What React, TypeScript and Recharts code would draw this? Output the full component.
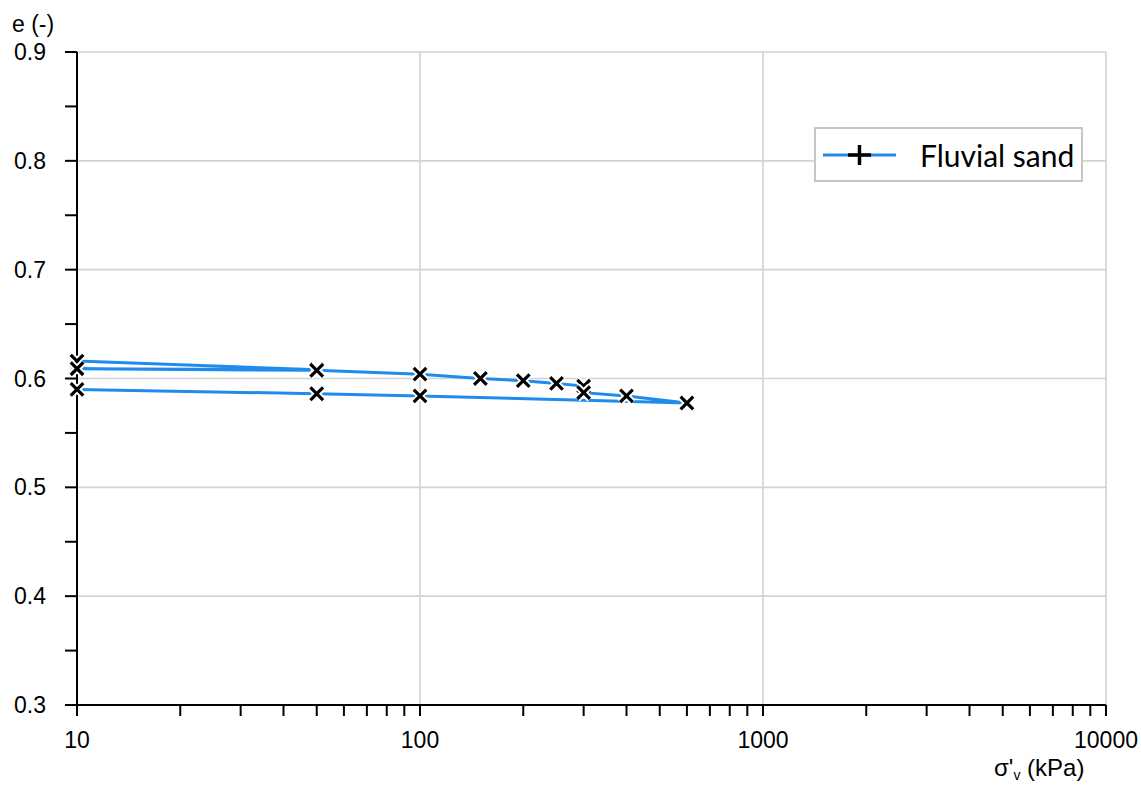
import React from "react";
import {
  LineChart,
  Line,
  XAxis,
  YAxis,
  CartesianGrid,
  Legend,
  Customized,
} from "recharts";

// oedometer test, loading / unloading path in test order
const stress = [10, 50, 10, 50, 100, 150, 200, 250, 300, 300, 400, 600, 100, 50, 10];
const voidRatio = [
  0.616, 0.608, 0.609, 0.6075, 0.604, 0.6, 0.598, 0.5955, 0.593, 0.587, 0.584,
  0.5775, 0.584, 0.586, 0.59,
];

const xTicks = [
  10, 20, 30, 40, 50, 60, 70, 80, 90, 100, 200, 300, 400, 500, 600, 700, 800,
  900, 1000, 2000, 3000, 4000, 5000, 6000, 7000, 8000, 9000, 10000,
];
const xLabels = [10, 100, 1000, 10000];
const yTicks = [0.3, 0.35, 0.4, 0.45, 0.5, 0.55, 0.6, 0.65, 0.7, 0.75, 0.8, 0.85, 0.9];
const yGridTicks = [0.3, 0.4, 0.5, 0.6, 0.7, 0.8, 0.9];
const seriesName = "Fluvial sand";

const data = stress.map((s, i) => ({ s, e: voidRatio[i] }));

const BLUE = "#1f8bec";
const FONT = "'Liberation Sans', Arial, sans-serif";

const CrossDot = (props: any) => {
  const { cx, cy, index } = props;
  if (cx == null || cy == null) return null;
  const r = 6.3;
  const d = `M${cx - r},${cy - r}L${cx + r},${cy + r}M${cx - r},${cy + r}L${cx + r},${cy - r}`;
  return (
    <g key={`dot-${index}`}>
      <path d={d} stroke="#fff" strokeWidth={7} />
      <path d={d} stroke="#000" strokeWidth={3.2} />
    </g>
  );
};

const LegendBox = () => (
  <div
    style={{
      width: 265,
      height: 51,
      border: "2px solid #c6c6c6",
      background: "#fff",
      display: "flex",
      alignItems: "center",
      boxSizing: "content-box",
    }}
  >
    <svg width={90} height={51}>
      <line x1={7} y1={26} x2={80} y2={26} stroke={BLUE} strokeWidth={3} />
      <line x1={32} y1={26} x2={55} y2={26} stroke="#000" strokeWidth={3.5} />
      <line x1={43.5} y1={16} x2={43.5} y2={36} stroke="#000" strokeWidth={3.5} />
    </svg>
    <span
      style={{
        fontFamily: "Lato, 'Open Sans', sans-serif",
        fontSize: 30,
        color: "#000",
        marginLeft: 14,
      }}
    >
      {seriesName}
    </span>
  </div>
);

const AxisTitles = () => (
  <g fontFamily={FONT} fill="#000">
    <text x={12} y={32} fontSize={23}>
      e (-)
    </text>
    <text x={994} y={776} fontSize={24}>
      σ'
      <tspan fontSize={14} dy={4}>
        v
      </tspan>
      <tspan dy={-4}> (kPa)</tspan>
    </text>
  </g>
);

export default function App() {
  return (
    <div style={{ position: "absolute", left: 0, top: 0, background: "#fff" }}>
      <LineChart
        width={1141}
        height={787}
        data={data}
        margin={{ top: 52, right: 35, bottom: 22, left: 0 }}
      >
        <XAxis
          xAxisId="grid"
          type="number"
          dataKey="s"
          scale="log"
          domain={[10, 10000]}
          ticks={xLabels}
          allowDataOverflow
          hide
        />
        <YAxis
          yAxisId="grid"
          type="number"
          domain={[0.3, 0.9]}
          ticks={yGridTicks}
          allowDataOverflow
          hide
        />
        <CartesianGrid
          xAxisId="grid"
          yAxisId="grid"
          stroke="#d2d2d2"
          strokeWidth={1.6}
        />
        <XAxis
          type="number"
          dataKey="s"
          scale="log"
          domain={[10, 10000]}
          ticks={xTicks}
          interval={0}
          height={60}
          tickSize={11}
          tickMargin={16}
          axisLine={{ stroke: "#000", strokeWidth: 2 }}
          tickLine={{ stroke: "#000", strokeWidth: 2 }}
          tick={{ fill: "#000", fontSize: 23, fontFamily: FONT }}
          tickFormatter={(v: number) => (xLabels.includes(v) ? String(v) : "")}
        />
        <YAxis
          type="number"
          domain={[0.3, 0.9]}
          ticks={yTicks}
          interval={0}
          width={77}
          tickSize={12}
          tickMargin={19}
          axisLine={{ stroke: "#000", strokeWidth: 2 }}
          tickLine={{ stroke: "#000", strokeWidth: 2 }}
          tick={{ fill: "#000", fontSize: 23, fontFamily: FONT }}
          tickFormatter={(v: number) =>
            Math.round(v * 100) % 10 === 0 ? v.toFixed(1) : ""
          }
        />
        <Line
          dataKey="e"
          name={seriesName}
          type="linear"
          stroke={BLUE}
          strokeWidth={3}
          dot={<CrossDot />}
          activeDot={false}
          isAnimationActive={false}
        />
        <Legend
          layout="vertical"
          align="center"
          verticalAlign="middle"
          content={<LegendBox />}
          wrapperStyle={{ left: 814, top: 127, width: 269, height: 55 }}
        />
        <Customized component={AxisTitles} />
      </LineChart>
    </div>
  );
}
